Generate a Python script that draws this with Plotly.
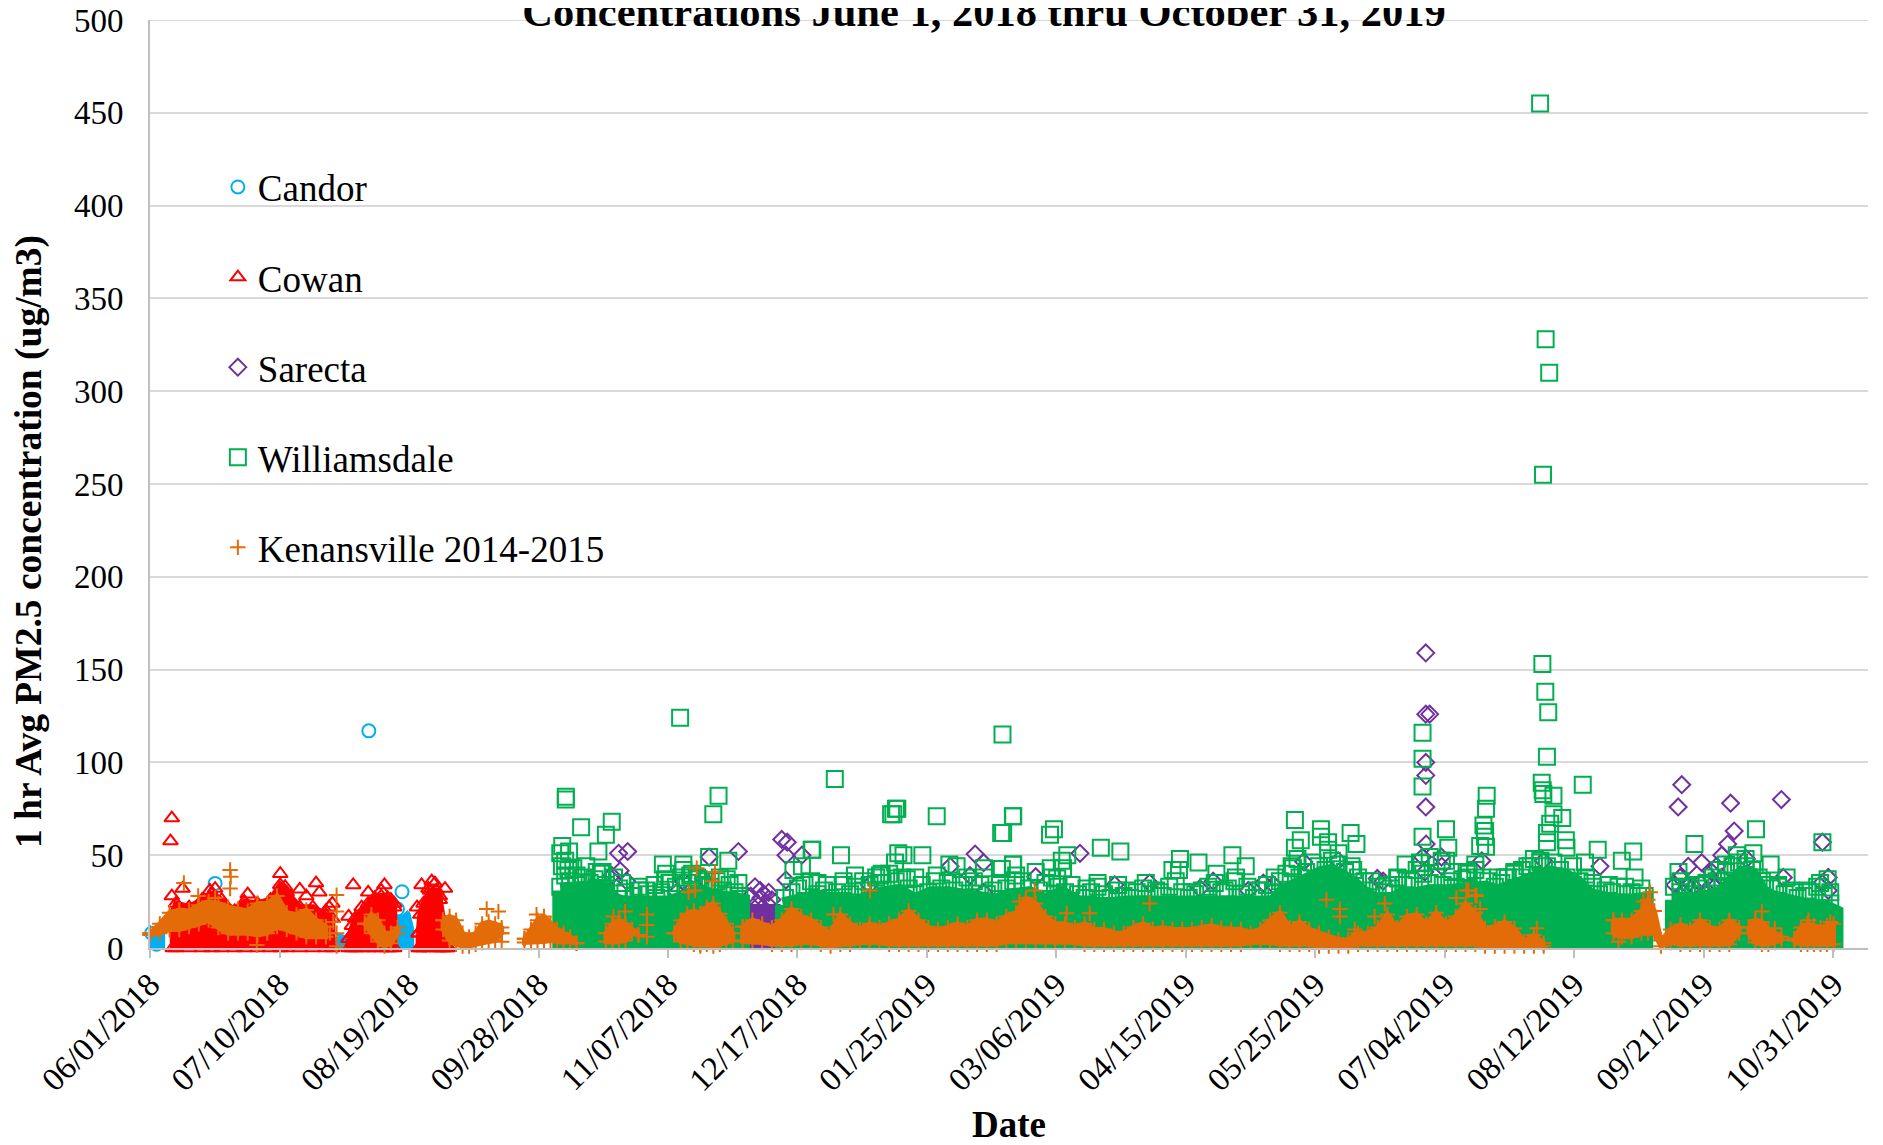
import pandas as pd
import plotly.graph_objects as go

TICK_TEXT = ["06/01/2018", "07/10/2018", "08/19/2018", "09/28/2018", "11/07/2018", "12/17/2018", "01/25/2019",
             "03/06/2019", "04/15/2019", "05/25/2019", "07/04/2019", "08/12/2019", "09/21/2019", "10/31/2019"]
Y_TICKS = [0, 50, 100, 150, 200, 250, 300, 350, 400, 450, 500]

# All x values are days after 06/01/2018.
# *_band_*: the edges of the parts of the cloud that are too dense to tell single hours apart.
candor_band_day = [0, 1, 2.5, None, 58.5, 59, None, 77.5, 78, 79, 79.5]
candor_band_low = [3, 2, 2, None, 2, 2, None, 2, 0, 0, 2]
candor_band_high = [7, 6, 5, None, 5, 6, None, 18, 17, 10, 4]
candor_day = [20, 67.2, 77.4, 76, 0.5, 2]
candor_val = [34.8, 117, 30.3, 21, 8, 2]

cowan_band_day = [7, 8, 12, 16, 19, 22, 26, 29, 33, 37, 40, 42, 46, 50, 54, 56, None,
                  61, 62, 63, 65, 67, 69, 71, 73, 74, 75, None,
                  82.5, 83, 84, 86, 88, 89, 90, 91, 91.4]
cowan_band_low = [0, 0, 0, 0, 0, 0, 0, 0, 0, 0, 0, 0, 0, 0, 0, 0, None,
                  0, 0, 0, 0, 0, 0, 0, 0, 0, 0, None,
                  0, 0, 0, 0, 0, 0, 0, 0, 0]
cowan_band_high = [18, 24, 22, 26, 29, 26, 20, 25, 24, 26, 34, 30, 22, 22, 18, 16, None,
                   5, 12, 16, 19, 24, 27, 28, 27, 26, 22, None,
                   8, 18, 24, 31, 31, 26, 15, 8, 1]
cowan_day = [6.7, 6.3, 40, 46, 51, 52, 48, 55, 62.4, 67, 72, 71, 69, 75, 65, 61, 6.7, 10, 18.4, 20, 30, 41.5, 83.4,
             86.5, 87.5, 90.6, 85.5, 89, 82, 56, 54]
cowan_val = [70, 57.6, 40, 31.6, 35, 30, 28, 22, 34, 30, 34, 31, 26, 24, 22, 17, 28, 32, 31, 32, 29, 33, 34,
             36, 35, 32, 32, 28, 22, 24, 20]

sarecta_band_day = [183.5, 186, 189, 191.5, None, 468, 472, 476, 480, 484]
sarecta_band_low = [0, 0, 0, 0, None, 20, 20, 20, 20, 20]
sarecta_band_high = [20, 20, 20, 20, None, 25, 26, 26, 27, 27]
sarecta_day = [143.9, 146.7, 144.4, 141.8, 180.7, 171.7, 194, 195.7, 195.3, 200.2, 195.3, 253.4, 256, 245.7, 221,
               251.8, 256, 163.8, 161.8, 170, 146.4, 185.8, 187.4, 188.4, 190, 186.3, 189.4, 191, 187.6, 184.5,
               285.6, 272, 296.3, 307, 322.4, 326.5, 341.9, 345, 337.3, 354.3, 364.9, 376.9, 378.7, 391.8, 393,
               391.8, 391.8, 391.8, 391.8, 390.8, 391.5, 396.6, 391.9, 396.7, 445.3, 470.4, 469.3, 485.4, 486.5,
               484.5, 501, 513.6, 476.5, 472.4, 482.7, 481.1, 479.6, 469.9, 476, 474, 472, 468.3, 490.3, 501.6,
               515.4, 513.4, 515.4, 482.7, 480.6, 478, 427.9, 409, 470.5, 474.5, 477.5]
sarecta_val = [51, 52, 41.6, 39, 52, 49, 58.5, 57, 50, 50, 36.6, 50.6, 46, 44, 34,
               39, 30, 36, 30, 37.5, 36, 33, 31, 29, 30, 24, 24, 26, 27, 28,
               51, 38.4, 34, 35, 32, 36, 35, 34, 31, 46.5, 47, 37.5, 36, 126, 126,
               159, 100, 93, 76, 49, 41, 49, 56, 44, 44, 88, 76, 78, 63,
               56, 80, 57, 46, 44, 50, 44, 41, 38, 35, 33, 34, 34, 48, 38,
               38, 35, 31, 38, 33, 31, 47, 47, 30, 29, 30]

williamsdale_band_day = [126, 130, 135, 140, 142, 145, 150, 155, 160, 165, 170, 175, 180, 181.8, None,
                         194.4, 198, 202, 206, 210, 215, 220, 225, 230, 235, 240, 245, 250, 255, 260,
                         265, 270, 275, 280, 285, 290, 295, 300, 305, 310, 315, 320, 325, 330, 335, 340, 345,
                         348, 351, 354, 357, 360, 363, 366, 369, 372, 375, 378, 381, 384, 387, 390,
                         393, 398, 402, 406, 410, 414, 418, 422, 426, 430, 434, 438, 442, 446, 450, 455, 459.2, None,
                         467.7, 471, 475, 479, 483, 486, 489, 492, 495, 498, 502, 506, 510, 514, 517.6]
williamsdale_band_low = [0] * 14 + [None] + [0] * 64 + [None] + [0] * 15
williamsdale_band_high = [31, 32, 32, 31, 26, 24, 24, 24, 24, 28, 29, 27, 25, 25, None,
                          23, 25, 26, 27, 25, 25, 25, 29, 30, 25, 29, 29, 27, 25, 25,
                          28, 29, 25, 29, 24, 23, 23, 24, 24, 25, 24, 23, 24, 24, 24, 23, 24,
                          30, 33, 35, 38, 40, 41, 39, 35, 30, 26, 24, 25, 28, 28, 30,
                          30, 30, 31, 32, 32, 30, 32, 35, 37, 40, 39, 35, 28, 26, 25, 25, 26, None,
                          26, 26, 25, 26, 30, 35, 40, 39, 30, 27, 25, 23, 22, 22, 19]
williamsdale_day = [127.7, 127.7, 132.4, 141.8, 140, 162.8, 174.6, 173, 210.3, 261.8, 126.6, 126, 128.7, 127.5, 137.7,
                    157.5, 163.8, 171.7, 177.6, 180.7, 203.2, 203.4, 212.2, 200.2, 216.5, 228.3, 227.6, 229.1, 229.5,
                    241.6, 261.4, 265.1, 229.8, 231.4, 237.2, 228.8, 224.7, 245.5, 261.6, 265.1, 256.1,
                    137.2, 131, 158.5, 163.8, 144.9, 152.5, 158.2, 165.9, 177.1, 213, 207.8, 197.6, 224.2, 232.4, 241.6,
                    247.7, 256.1, 265.1, 130, 134, 139, 126.5, 128.5, 150, 155, 168, 171, 175, 205, 219, 235, 250,
                    265, 262, 277.6, 276.4, 292, 298, 281.7, 280, 280.4, 276.6, 265, 266, 272, 278.6, 291, 287.6, 297.3,
                    305.8, 316.3, 322, 314, 316, 327.5, 332.4, 336.5, 333.5, 345.4, 351.6, 353.4, 351.6, 359.6, 359.6,
                    361.8, 368.7, 370.5, 361.8, 365, 352.4, 350.6, 369.5, 385.6, 383.3, 390.8, 390.8, 390.8, 390.8,
                    398, 398.7, 390.3, 393, 398, 404.3, 408.5, 410.5, 410.3, 409.5, 410, 410, 410.3, 427.6, 428.5, 429.4,
                    429, 427.4, 427.7, 427.9, 431, 440, 431, 433.7, 430, 429, 429, 434.8, 435, 444.6, 452, 455.5, 455.9,
                    440.7, 441, 474.3, 469.4, 493.2, 492.4, 487.3, 497.7, 502.6, 513.6, 515.2, 512.9, 481.1, 427, 390,
                    396.7, 404.4, 421.3, 416, 426.9, 428.6, 429.7, 427.8, 300, 310, 320, 330, 340, 375, 380, 386, 400,
                    407, 414, 419, 424, 437, 443, 448, 453, 458, 470, 475, 478, 484, 490, 495, 500, 505, 509, 516]
williamsdale_val = [81.5, 80, 65, 68, 61, 124, 82, 72, 91, 115, 55, 51, 52, 47, 52,
                    45, 45, 49, 47, 35, 53, 53, 50, 44, 39, 72, 72, 75, 75,
                    71, 62, 71, 51, 50, 50, 46, 40, 45, 42.5, 45, 43,
                    41, 39, 40, 42, 35, 31, 37, 39, 37, 36, 34, 42, 39, 37, 39,
                    44, 38, 36, 43, 44, 41, 44, 42, 33, 34, 38, 36, 38, 35, 36, 38, 34,
                    71, 62, 64, 61, 54, 52, 50, 47, 43, 43, 45, 39, 41, 37.5, 35, 32, 34,
                    35, 48, 46, 42, 42, 40, 50, 44, 38, 38, 69, 58, 54, 64, 60,
                    57, 62, 56, 53, 51, 48, 44, 42, 45, 37.5, 116, 102, 87, 60,
                    64, 54, 45.6, 49, 47, 41, 55, 82, 75, 66, 63, 60, 54.6, 153, 138, 127,
                    103, 89, 85, 83, 82, 88, 72, 70, 67, 62, 57, 58, 54, 53, 47, 52, 38,
                    46, 38, 56, 41, 64, 51, 50, 45, 38, 57, 37, 35, 36, 47, 46,
                    47, 38, 42, 38, 455, 328, 310, 255, 31, 30, 30, 31, 31, 36, 34, 37, 41,
                    42, 38, 40, 44, 44, 35, 34, 33, 32, 36, 34, 35, 41, 44, 36, 33, 30, 31, 30]
# The crowded top edge of the Williamsdale cloud, where squares overlap.
williamsdale_edge_day = [126, 127.5, 129, 131, 133, 135, 136.5, 138.5, 140, 142.5, 144, 146, 148.5, 150.5, 153, 155.5,
                         157, 159.5, 161.5, 163, 165, 166.5, 168.5, 170, 172, 174, 176, 178, 179.5, 181,
                         195, 197, 199, 201, 203, 205, 207, 209, 211, 213, 215, 217, 219, 221, 223, 225, 227, 229, 231,
                         233, 235, 237, 239, 241, 243, 245, 247, 249, 251, 253, 255, 257, 259, 261, 263,
                         266, 268, 270, 273, 275, 277, 279, 281, 283, 285, 287, 289, 291, 293, 295, 297, 299, 301, 303,
                         305, 307, 309, 311, 313, 315, 317, 319, 321, 323, 325, 327, 329, 331, 333, 335, 337, 339, 341,
                         343, 345, 347, 349, 351, 353, 355, 357, 359, 361, 363, 365, 367, 369, 371, 373, 375, 377, 379,
                         381, 383, 385, 387, 389, 391, 393, 395, 397, 399, 401, 403, 405, 407, 409, 411, 413, 415, 417,
                         419, 421, 423, 425, 427, 429, 431, 433, 435, 437, 439, 441, 443, 445, 447, 449, 451, 453, 455,
                         457, 459, 468, 470, 472, 474, 476, 478, 480, 482, 484, 486, 488, 490, 492, 494, 496, 498, 500,
                         502, 504, 506, 508, 510, 512, 514, 516, 517.5]
williamsdale_edge_val = [33, 39, 36, 34, 38, 35, 37, 40, 34, 38, 32, 30, 28, 31, 29, 27, 30, 35, 33, 38, 35, 40, 37,
                         34, 33, 36, 31, 34, 30, 28,
                         27, 30, 32, 34, 36, 29, 31, 27, 30, 34, 29, 33, 31, 34, 38, 35, 40, 36, 38,
                         32, 29, 34, 30, 36, 32, 35, 31, 34, 38, 36, 34, 29, 31, 35, 32,
                         34, 36, 32, 31, 35, 38, 33, 30, 34, 29, 27, 30, 33, 29, 27, 31, 28, 27, 30,
                         32, 29, 31, 28, 33, 36, 30, 27, 29, 31, 33, 35, 30, 32, 36, 29, 33, 27,
                         31, 34, 30, 36, 40, 43, 38, 41, 46, 44, 42, 47, 45, 41, 44, 38, 36, 31, 33,
                         30, 32, 38, 34, 36, 42, 40, 35, 38, 34, 36, 33, 37, 40, 45, 38, 36, 33, 35,
                         38, 41, 38, 44, 48, 46, 44, 46, 42, 38, 34, 36, 31, 33, 29, 31, 30, 33, 29,
                         30, 28, 28, 33, 30, 33, 29, 32, 34, 38, 42, 45, 44, 46, 48, 42, 38, 34, 32,
                         34, 29, 31, 27, 28, 30, 33, 28, 24]

kenansville_band_day = [0, 3, 6, 9, 12, 15, 18, 21, 24, 27, 30, 33, 36, 39, 42, 45, 48, 51, 54, None,
                        66, 68, 70, 72, 74, 76, None,
                        90, 92, 94, 96, 98, 100, 102, 104, 106, 108, None,
                        115, 117, 119, 121, 123, 125, 127, 129, 131, None,
                        140, 142, 144, 146, 148, 150, None,
                        161, 163, 165, 167, 169, 171, 173, 175, 177, 179, None,
                        182, 185, 188, 191, 194, 197, 200, 203, 206, 209, 212, 215, 218, 221, 224, 227, 230, 233, 236,
                        239, 242, 245, 248, 251, 254, 257, 260, 263, 266, 269, 272, 275, 278, 281, 284, 287, 290, 293,
                        296, 299, 302, 305, 308, 311, 314, 317, 320, 323, 326, 329, 332, 335, 338, 341, 344, 347, 350,
                        353, 356, 359, 362, 365, 368, 371, 374, 377, 380, 383, 386, 389, 392, 395, 398, 401, 404, 407,
                        410, 413, 416, 419, 422, 425, 428, None,
                        449.4, 452, 455, 458, 460, 462, 464, 467, 470, 473, 476, 479, 482, 485, 488, None,
                        491, 493, 495, 497, 499, 501, None,
                        505, 507, 509, 511, 513, 515, 517]
kenansville_band_low = [7, 8, 10, 10, 11.5, 13, 15, 11, 8, 8, 8, 7, 8, 11.5, 10, 8, 6, 6, 6, None,
                        13, 8, 3.5, 1, 2.5, 8, None,
                        10, 4, 2, 1, 1, 2, 3, 3.5, 4, 8, None,
                        3, 3, 3.5, 3.5, 4, 3.5, 3, 3.5, 2.5, None,
                        3.5, 3, 3.5, 4, 8, 7, None,
                        8, 3.5, 3, 2, 2, 2, 1, 2, 3, 4, None,
                        3.5, 3.5, 3, 2, 2, 2, 3, 3, 2, 1, 2, 2, 3, 3, 3, 2, 2, 2, 2,
                        2, 2, 2, 2, 2, 2, 2, 2, 3.5, 3.5, 3.5, 3.5, 3.5, 3, 3, 3, 2, 2, 2,
                        2, 2, 2, 2, 2, 2, 2, 2, 2, 2, 2, 2, 2, 2, 3, 3, 3, 2, 2,
                        2, 2, 1, 1, 1, 1, 2, 2, 2, 2, 2, 2, 2, 2, 2, 2, 2, 2, 2,
                        1, 1, 1, 1, 1, 1, 1, None,
                        8, 6, 6, 8, 8, 8, 1, 3, 2, 2, 2, 2, 2, 2, 8, None,
                        8, 3, 2, 2, 3, 4.5, None,
                        4, 2, 2, 2, 2, 2, 2]
kenansville_band_high = [8, 13, 19, 20.5, 20, 23, 25, 24, 22, 21, 20, 24, 24, 28, 19, 18, 20.5, 15, 11.5, None,
                         13, 18, 15, 8, 8, 11, None,
                         15, 17, 15, 8, 6, 8, 13, 14, 13, 11, None,
                         5, 10, 15, 17, 13, 10, 8, 6, 2.5, None,
                         8, 13, 15, 13, 10, 7, None,
                         8, 15, 18.5, 20, 18.5, 22, 24, 18.5, 13, 8, None,
                         11.5, 15, 13, 11, 15, 21, 17, 15, 11, 8, 18, 13, 10, 13, 11, 13, 15, 20, 15,
                         11, 10, 11, 13, 11, 15, 15, 13, 17, 19, 27, 24, 17, 13, 13, 11, 13, 10, 10,
                         8, 8, 11, 13, 10, 11, 10, 10, 10, 11, 12, 10.5, 10, 10, 8, 10, 15, 19, 11,
                         14, 10, 8, 6, 4.5, 4.5, 8, 8, 11, 18, 11, 17, 18, 13, 19, 13, 17, 24, 19,
                         10.5, 11.5, 14, 10.5, 3.5, 7, 2.5, None,
                         15, 15, 15, 20, 26, 20, 4, 10, 12.5, 10, 15, 11, 10, 15, 11, None,
                         11, 15, 14, 10, 8, 6, None,
                         5, 11, 13, 12, 11, 12, 13]
kenansville_day = [24.6, 24.8, 24.6, 10.4, 14.8, 32.8, 103.4, 107, 108, 108, 57.3, 57.3, 56.3, 57.3, 57.3, 55.3,
                   118.7, 20, 167.9, 173.5, 172.8, 167.4, 165.4, 221.1, 209.9, 152.6, 152.6, 152.6, 145.9, 142.3, 169,
                   267, 271.7, 307, 281.5, 288.6, 361.3, 365.4, 365.4, 379.2, 376.1, 370, 404.3, 401.2, 407.4,
                   404.9, 407, 408.5, 460.7, 458.6, 451, 495, 493, 499, 509.3, 516, 425.9]
kenansville_val = [42, 38.4, 32, 35, 28, 1.6, 21, 19.6, 3.4, 8, 28.5, 19.6, 14, 8, 1, 8,
                   18, 27, 43, 41, 36, 31, 30, 31, 18, 18, 12.4, 6, 19.6, 17, 1,
                   25, 31, 24, 18.7, 18.7, 26, 21, 17, 24, 17, 10, 31, 27, 28,
                   31, 28.5, 21, 30, 25, 3.4, 19.6, 15, 10.6, 15, 14, 10.6]

START = pd.Timestamp("2018-06-01")
END = pd.Timestamp("2019-10-31")
AXIS_END = START + pd.Timedelta(days=527.6)
FONT = "Liberation Serif"


def as_dates(days):
    return [None if d is None else (START + pd.Timedelta(days=d)).isoformat() for d in days]


def polygons(days, low, high):
    xs, ys, seg = [], [], []
    for d, lo, hi in list(zip(days, low, high)) + [(None, None, None)]:
        if d is None:
            xs += [s[0] for s in seg] + [s[0] for s in reversed(seg)] + [seg[0][0], None]
            ys += [s[2] for s in seg] + [s[1] for s in reversed(seg)] + [seg[0][2], None]
            seg = []
        else:
            seg.append((d, lo, hi))
    return as_dates(xs), ys


fig = go.Figure()
series = [
    ("Candor", "#00B0F0", "circle-open", 13, 14, candor_band_day, candor_band_low, candor_band_high, candor_day, candor_val, False),
    ("Cowan", "#FF0000", "triangle-up-open", 13, 6, cowan_band_day, cowan_band_low, cowan_band_high, cowan_day, cowan_val, True),
    ("Sarecta", "#7030A0", "diamond-open", 13, 14, sarecta_band_day, sarecta_band_low, sarecta_band_high, sarecta_day, sarecta_val, False),
    ("Williamsdale", "#00B050", "square-open", 16, 16, williamsdale_band_day, williamsdale_band_low, williamsdale_band_high,
     williamsdale_day + williamsdale_edge_day, williamsdale_val + williamsdale_edge_val, False),
    ("Kenansville 2014-2015", "#E36C09", "cross-thin-open", 11, 5, kenansville_band_day, kenansville_band_low, kenansville_band_high, kenansville_day, kenansville_val, True),
]
for name, color, symbol, size, stroke, bd, bl, bh, d, v, teeth in series:
    mk = dict(symbol=symbol, size=size, color=color, line=dict(color=color, width=2))
    px, py = polygons(bd, bl, bh)
    fig.add_trace(go.Scatter(x=px, y=py, mode="lines+markers" if teeth else "lines", fill="toself", fillcolor=color,
                             line=dict(color=color, width=stroke), marker=mk, showlegend=False, hoverinfo="skip",
                             legendgroup=name, cliponaxis=False))
    fig.add_trace(go.Scatter(x=as_dates(d), y=v, mode="markers", name=name, marker=mk, legendgroup=name, cliponaxis=False))

tick_pos = [t.isoformat() for t in pd.date_range(START, END, periods=len(TICK_TEXT))]
fig.update_layout(
    width=1883, height=1145, margin=dict(l=142, r=23, t=12, b=205),
    paper_bgcolor="white", plot_bgcolor="white", font=dict(family=FONT, color="black", size=33),
    title=dict(text="<b>Concentrations June 1, 2018 thru October 31, 2019</b>", font=dict(size=42.5, family=FONT),
               x=976 / 1883, xanchor="center", y=1 - 18 / 1145, yanchor="bottom", xref="container", yref="container"),
    legend=dict(x=0.0395, y=0.853, xanchor="left", yanchor="top", tracegroupgap=39, font=dict(size=37, family=FONT),
                itemwidth=30, bgcolor="rgba(0,0,0,0)", borderwidth=0),
    xaxis=dict(type="date", range=[START.isoformat(), AXIS_END.isoformat()], tickmode="array", tickvals=tick_pos,
               ticktext=TICK_TEXT, tickangle=-45, ticks="outside", ticklen=8, tickwidth=2, tickcolor="#BFBFBF",
               showgrid=False, showline=True, linecolor="#BFBFBF", linewidth=2, zeroline=False, automargin=False,
               ticklabelstandoff=-6,
               title=dict(text="<b>Date</b>", font=dict(size=37, family=FONT), standoff=14)),
    yaxis=dict(range=[0, 500], tickmode="array", tickvals=Y_TICKS, ticks="", showgrid=True, gridcolor="#D9D9D9",
               gridwidth=2, showline=True, linecolor="#BFBFBF", linewidth=2, zeroline=False, ticklabelstandoff=18,
               ticklabeloverflow="allow", automargin=False),
    shapes=[dict(type="line", xref="paper", yref="y", x0=0, x1=1, y0=500, y1=500, layer="below",
                 line=dict(color="#D9D9D9", width=2))],
    annotations=[dict(text="<b>1 hr Avg PM2.5 concentration (ug/m3)</b>", textangle=-90, showarrow=False,
                      font=dict(size=37.5, family=FONT), xref="paper", yref="paper", x=-0.0704, y=0.4375,
                      xanchor="center", yanchor="middle")],
)
fig.write_html("out.html")
